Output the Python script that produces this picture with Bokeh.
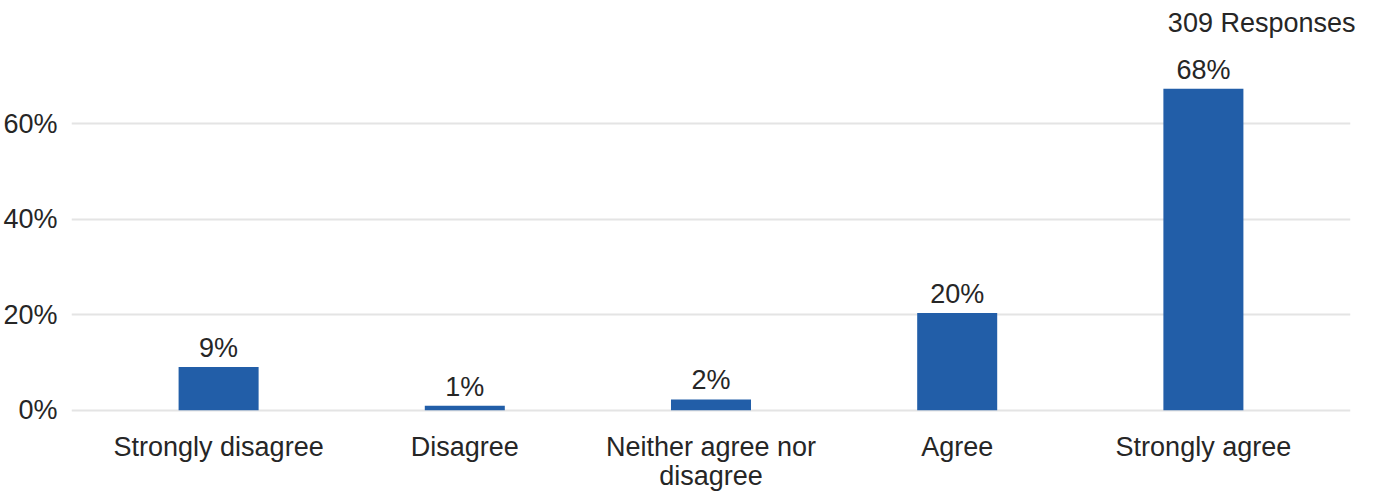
from bokeh.plotting import figure
from bokeh.models import ColumnDataSource, Range1d, FixedTicker, PrintfTickFormatter
from bokeh.core.properties import value
from bokeh.embed import file_html
from bokeh.resources import INLINE

categories = ["Strongly disagree", "Disagree", "Neither agree nor disagree", "Agree", "Strongly agree"]
label_line1 = ["Strongly disagree", "Disagree", "Neither agree nor", "Agree", "Strongly agree"]
label_line2 = ["", "", "disagree", "", ""]
percents = [9.06, 0.97, 2.27, 20.39, 67.31]
bar_labels = ["9%", "1%", "2%", "20%", "68%"]
y_ticks = [0, 20, 40, 60]
responses_text = "309 Responses"

FONT = "Liberation Sans"
TXT = "#262626"
BAR = "#225ea8"
FS = "27px"

src = ColumnDataSource(dict(cat=categories, pct=percents, lab=bar_labels,
                            l1=label_line1, l2=label_line2, zero=[0] * len(categories)))

p = figure(x_range=categories, y_range=Range1d(-17.41, 77.0), width=1375, height=493,
           output_backend="svg", toolbar_location=None,
           min_border_left=70, min_border_right=25, min_border_top=0, min_border_bottom=0)
p.x_range.range_padding = 0.039
p.outline_line_color = None
p.background_fill_color = "white"
p.border_fill_color = "white"

p.title.text = responses_text
p.title.align = "right"
p.title.text_font = FONT
p.title.text_font_size = FS
p.title.text_font_style = "normal"
p.title.text_color = TXT
p.title.offset = -5

p.vbar(x="cat", top="pct", width=0.325, source=src, color=BAR, line_color=None)
p.text(x="cat", y="pct", text="lab", source=src, text_align="center", text_baseline="alphabetic",
       y_offset=-19, text_font=value(FONT), text_font_size=FS, text_color=TXT)

# category labels (drawn below the zero line, two lines)
p.text(x="cat", y="zero", text="l1", source=src, text_align="center", text_baseline="alphabetic",
       y_offset=37, text_font=value(FONT), text_font_size=FS, text_color=TXT)
p.text(x="cat", y="zero", text="l2", source=src, text_align="center", text_baseline="alphabetic",
       y_offset=66, text_font=value(FONT), text_font_size=FS, text_color=TXT)

p.xaxis.visible = False
p.xgrid.grid_line_color = None
p.ygrid.grid_line_color = "#e4e4e4"
p.ygrid.grid_line_width = 2
p.yaxis.ticker = FixedTicker(ticks=y_ticks)
p.ygrid.ticker = FixedTicker(ticks=y_ticks)
p.yaxis.formatter = PrintfTickFormatter(format="%d%%")
p.yaxis.axis_line_color = None
p.yaxis.major_tick_line_color = None
p.yaxis.minor_tick_line_color = None
p.yaxis.major_label_text_font = FONT
p.yaxis.major_label_text_font_size = FS
p.yaxis.major_label_text_color = TXT
p.yaxis.major_label_standoff = 8

open("out.html", "w").write(file_html(p, INLINE))
